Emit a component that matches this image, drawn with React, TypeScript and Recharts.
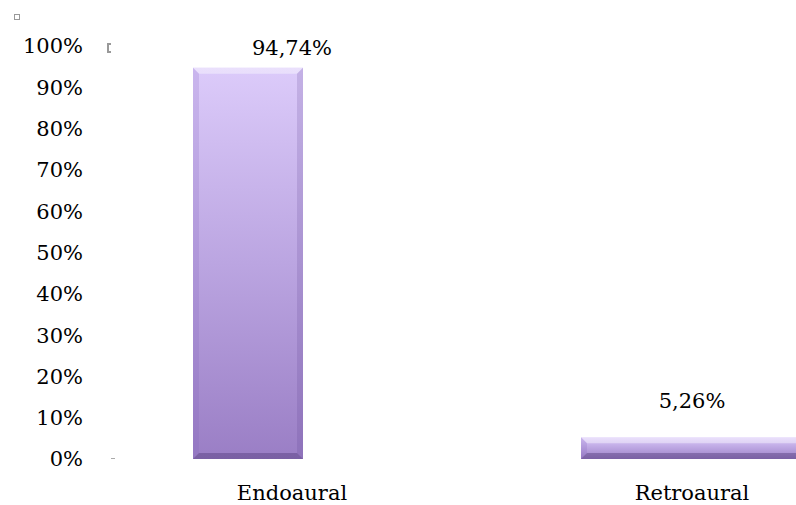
import { BarChart, Bar, XAxis, YAxis, LabelList } from "recharts"

const categories = ["Endoaural", "Retroaural"]
const shares = [0.9474, 0.0526]
const yTicks = [0, 0.1, 0.2, 0.3, 0.4, 0.5, 0.6, 0.7, 0.8, 0.9, 1]

const data = categories.map((name, i) => ({ name, value: shares[i] }))

const font = "'DejaVu Serif', serif"

const pct = (v: number) => `${Math.round(v * 100)}%`
const pctComma = (v: number) => `${(v * 100).toFixed(2).replace(".", ",")}%`

// bevelled bar, the second one is drawn wider and runs off the right edge like the source
function BevelBar(props: any) {
  const { x, y, width, height, index } = props
  if (!height || height <= 0) return null
  const bx = index === 0 ? x - 44 : x - 56
  const bw = index === 0 ? width : width * 2.1
  const b = Math.min(6, height / 3)
  const r = bx + bw
  const btm = y + height
  return (
    <g>
      <rect x={bx} y={y} width={bw} height={height} fill="url(#lavender)" />
      <polygon
        points={`${bx},${y} ${r},${y} ${r - b},${y + b} ${bx + b},${y + b}`}
        fill="#ffffff"
        fillOpacity={0.4}
      />
      <polygon
        points={`${bx},${y} ${bx + b},${y + b} ${bx + b},${btm - b} ${bx},${btm}`}
        fill="#7a56b8"
        fillOpacity={0.18}
      />
      <polygon
        points={`${r},${y} ${r - b},${y + b} ${r - b},${btm - b} ${r},${btm}`}
        fill="#5a3f88"
        fillOpacity={0.18}
      />
      <polygon
        points={`${bx},${btm} ${bx + b},${btm - b} ${r - b},${btm - b} ${r},${btm}`}
        fill="#4a3472"
        fillOpacity={0.4}
      />
    </g>
  )
}

function TopLabel(props: any) {
  const { x, y, width, value } = props
  const baseline = Math.max(y - 29, 55)
  return (
    <text
      x={x + width / 2}
      y={baseline}
      textAnchor="middle"
      fontFamily={font}
      fontSize={21}
      fill="#000"
    >
      {pctComma(value)}
    </text>
  )
}

export default function App() {
  return (
    <div
      style={{
        position: "absolute",
        left: 0,
        top: 0,
        width: 796,
        height: 505,
        overflow: "hidden",
        background: "#fff"
      }}
    >
      <BarChart
        width={892}
        height={505}
        data={data}
        margin={{ top: 46, right: 0, bottom: 0, left: 0 }}
        barSize={110}
      >
        <defs>
          <linearGradient id="lavender" x1="0" y1="0" x2="0" y2="1">
            <stop offset="0%" stopColor="#dccbfa" />
            <stop offset="50%" stopColor="#bba5e1" />
            <stop offset="100%" stopColor="#9a7ec5" />
          </linearGradient>
        </defs>

        <XAxis
          dataKey="name"
          axisLine={false}
          tickLine={false}
          tickSize={0}
          tickMargin={26}
          height={46}
          tick={{ fontSize: 21, fontFamily: font, fill: "#000" }}
        />

        <YAxis
          domain={[0, 1]}
          ticks={yTicks}
          tickFormatter={pct}
          axisLine={false}
          tickLine={false}
          tickSize={0}
          tickMargin={9}
          width={92}
          interval={0}
          tick={{ fontSize: 21, fontFamily: font, fill: "#000" }}
        />

        <Bar dataKey="value" shape={BevelBar} isAnimationActive={false}>
          <LabelList dataKey="value" content={TopLabel} />
        </Bar>
      </BarChart>

      <svg
        width={796}
        height={505}
        style={{ position: "absolute", left: 0, top: 0, pointerEvents: "none" }}
      >
        <rect x={14.5} y={14.5} width={5} height={5} fill="none" stroke="#999" />
        <path d="M111 44 H108 V52 H111" fill="none" stroke="#999" strokeWidth={2} />
        <line x1={111} y1={458.5} x2={115} y2={458.5} stroke="#aaa" />
      </svg>
    </div>
  )
}
